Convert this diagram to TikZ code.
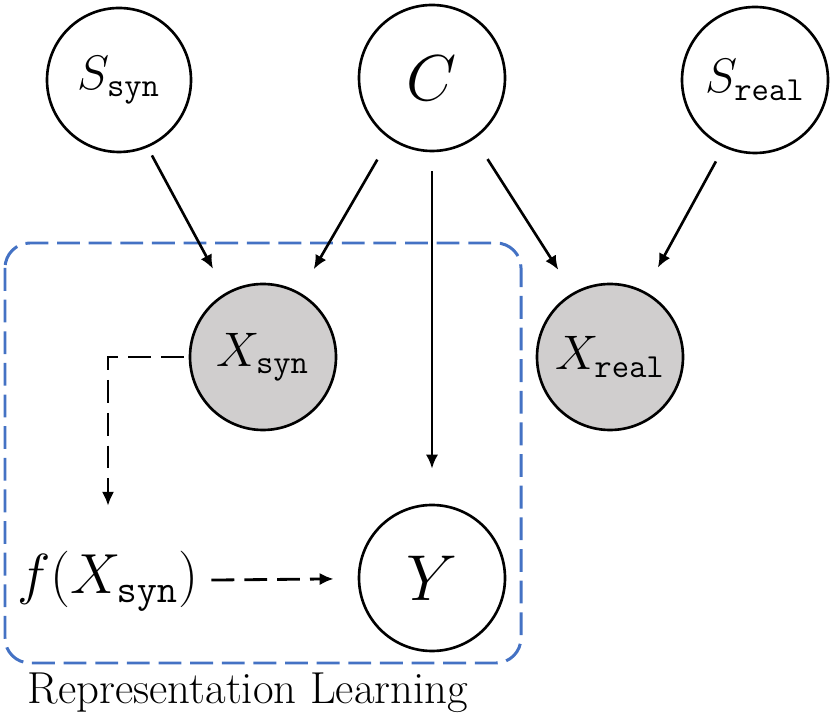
\documentclass[tikz,border=0pt]{standalone}
\usetikzlibrary{arrows.meta}

\definecolor{obsgray}{RGB}{208,206,206}
\definecolor{boxblue}{RGB}{68,114,196}

% math is capped at 24.88pt, so scale it up
\newcommand{\vlabel}[1]{\scalebox{1.33}{$#1$}}
\newcommand{\blabel}[1]{\scalebox{1.78}{$#1$}}

\begin{document}
\begin{tikzpicture}[
    vnode/.style={
        circle, draw=black, line width=1.5pt, fill=white,
        minimum size=2.92cm, inner sep=0pt,
        font=\fontsize{20.74}{24}\selectfont
    },
    onode/.style={vnode, fill=obsgray},
    cedge/.style={line width=1.5pt, -{Latex[length=8pt,width=7pt]},
        shorten <=0.45cm, shorten >=0.54cm},
    dedge/.style={line width=1.6pt, -{Latex[length=8pt,width=7pt]},
        dash pattern=on 13pt off 5.7pt},
]

\useasboundingbox (0,0) rectangle (16.6,-14.36);

% top row
\node [vnode, minimum size=2.88cm] (Ssyn) at ( 2.38,-1.60) {\vlabel{S_{\mathtt{syn}}}};
\node [vnode] (C) at ( 8.64,-1.56) {\blabel{C}};
\node [vnode] (Sreal) at (15.10,-1.60) {\vlabel{S_{\mathtt{real}}}};

% observed
\node [onode] (Xsyn) at ( 5.26,-7.14) {\vlabel{X_{\mathtt{syn}}}};
\node [onode] (Xreal) at (12.20,-7.14) {\vlabel{X_{\mathtt{real}}}};

% representation learning
\node [vnode] (Y) at ( 8.64,-11.56) {\blabel{Y}};
\node [inner sep=0pt, font=\fontsize{20.74}{24}\selectfont] (fx) at ( 2.16,-11.62)
    {\scalebox{1.55}{$f(X_{\mathtt{syn}})$}};

\draw[boxblue, line width=1.7pt, rounded corners=0.5cm,
    dash pattern=on 13pt off 5pt] (0.10,-4.86) rectangle (10.42,-13.26);
\node [font=\fontsize{25.5}{29}\selectfont] (rl) at (4.96,-13.86)
    {Representation Learning};

\draw[cedge, shorten <=0.18cm] (Ssyn.-67) -- (Xsyn.120);
\draw[cedge, shorten <=0.48cm] (C.-125) -- (Xsyn.60);
\draw[cedge, shorten <=0.38cm, shorten >=0.7cm] (C) -- (Y);
\draw[cedge, shorten <=0.48cm] (C.-55) -- (Xreal.120);
\draw[cedge, shorten <=0.32cm] (Sreal.-115) -- (Xreal.62);

\draw[dedge, shorten <=0.1cm, shorten >=0.9cm] (Xsyn.west) -| (fx.north);
\draw[dedge, shorten <=0.25cm, shorten >=0.48cm] (fx) -- (Y);

\end{tikzpicture}
\end{document}
